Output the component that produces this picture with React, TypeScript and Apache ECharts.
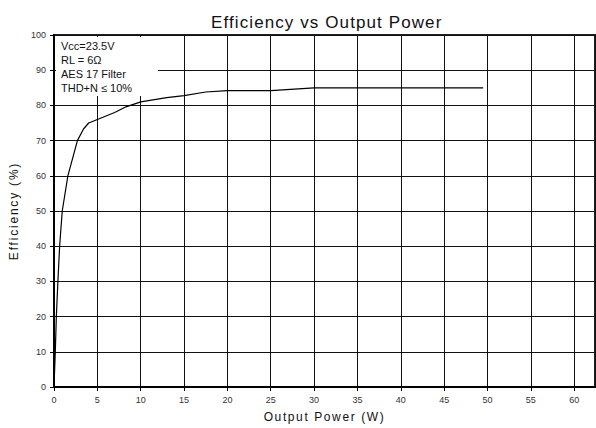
import React, { useEffect, useRef } from "react";
import * as echarts from "echarts";

const outputPowerW = [0, 0.15, 0.27, 0.45, 0.65, 0.95, 1.6, 2.7, 3.4, 4, 5, 7, 8.3, 10, 13, 15, 17.5, 20, 25, 30, 49.5];
const efficiencyPct = [0, 10, 20, 30, 40, 50, 60, 70, 73.3, 75, 76, 78, 79.6, 81, 82.2, 82.8, 83.8, 84.2, 84.2, 85, 85];
const noteLines = ["Vcc=23.5V", "RL = 6\u03A9", "AES 17 Filter", "THD+N \u2264 10%"];
const titleText = "Efficiency vs Output Power";
const xName = "Output Power (W)";
const yName = "Efficiency (%)";

const FONT = "'Liberation Sans', Arial, sans-serif";

export default function App() {
  const ref = useRef<HTMLDivElement>(null);
  useEffect(() => {
    document.body.style.margin = "0";
    const el = ref.current!;
    const chart = echarts.init(el, undefined, { renderer: "svg" });
    const data = outputPowerW.map((x, i) => [x, efficiencyPct[i]]);
    const spacing: Record<string, string> = {
      [titleText]: "1.1px",
      [xName]: "1.6px",
      [yName]: "1.8px",
    };
    const applySpacing = () => {
      el.querySelectorAll("text").forEach((t) => {
        const s = spacing[(t.textContent || "").trim()];
        if (s) (t as SVGTextElement).style.letterSpacing = s;
      });
    };
    chart.on("finished", applySpacing);
    chart.setOption({
      animation: false,
      backgroundColor: "#fff",
      textStyle: { fontFamily: FONT },
      title: {
        text: titleText,
        left: 206,
        top: 9,
        textStyle: { fontFamily: FONT, fontSize: 17, fontWeight: "normal", color: "#111" },
      },
      grid: {
        left: 54,
        right: 1,
        top: 35,
        bottom: 37,
        show: true,
        borderColor: "#222",
        borderWidth: 2,
        backgroundColor: "transparent",
      },
      xAxis: {
        type: "value",
        min: 0,
        max: 62.4,
        interval: 5,
        name: xName,
        nameLocation: "middle",
        nameGap: 24,
        nameTextStyle: { fontFamily: FONT, fontSize: 12, color: "#111" },
        axisLine: { show: true, lineStyle: { color: "#000", width: 2 } },
        axisTick: { show: true, length: 4, lineStyle: { color: "#000" } },
        axisLabel: { fontSize: 9, color: "#333", margin: 8, showMaxLabel: false },
        splitLine: { show: true, lineStyle: { color: "#111", width: 1 } },
      },
      yAxis: {
        type: "value",
        min: 0,
        max: 100,
        interval: 10,
        name: yName,
        nameLocation: "middle",
        nameGap: 34,
        nameTextStyle: { fontFamily: FONT, fontSize: 12, color: "#111" },
        axisLine: { show: true, lineStyle: { color: "#000", width: 2 } },
        axisTick: { show: true, length: 4, lineStyle: { color: "#000" } },
        axisLabel: { fontSize: 9, color: "#333", margin: 8 },
        splitLine: { show: true, lineStyle: { color: "#111", width: 1 } },
      },
      graphic: [
        {
          type: "rect",
          z: 100,
          shape: { x: 56, y: 37, width: 102, height: 59 },
          style: { fill: "#fff" },
        },
        ...noteLines.map((t, i) => ({
          type: "text",
          z: 101,
          x: 61,
          y: 40 + i * 14.3,
          style: { text: t, fontFamily: FONT, fontSize: 11, fill: "#111" },
        })),
      ],
      series: [
        {
          type: "line",
          data,
          showSymbol: false,
          symbol: "none",
          lineStyle: { color: "#000", width: 1.2 },
          z: 5,
        },
      ],
    });
    applySpacing();
    const raf = requestAnimationFrame(applySpacing);
    return () => {
      cancelAnimationFrame(raf);
      chart.dispose();
    };
  }, []);
  return <div ref={ref} style={{ position: "fixed", left: 0, top: 0, width: 596, height: 428 }} />;
}
